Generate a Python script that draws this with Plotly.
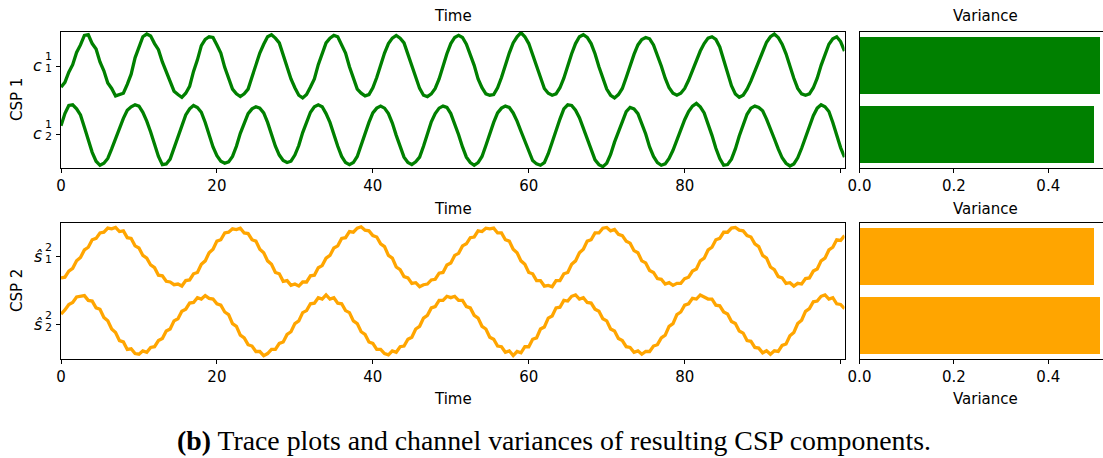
import numpy as np
import plotly.graph_objects as go

# ---------------------------------------------------------------- data
TIME_STEP = 0.5  # samples every half time unit, 0 .. 100.5

# CSP 1 components (deviation from each channel's baseline)
C1_1 = [-0.31, -0.24, -0.09, 0.02, 0.20, 0.31, 0.45, 0.46, 0.33, 0.25,
        0.06, -0.07, -0.25, -0.33, -0.44, -0.42, -0.40, -0.27, -0.12, 0.12,
        0.27, 0.43, 0.47, 0.44, 0.33, 0.24, 0.06, -0.09, -0.21, -0.37,
        -0.42, -0.46, -0.40, -0.30, -0.08, 0.09, 0.30, 0.39, 0.43, 0.42,
        0.31, 0.19, -0.02, -0.17, -0.34, -0.41, -0.45, -0.41, -0.34, -0.16,
        0.01, 0.19, 0.32, 0.43, 0.46, 0.41, 0.34, 0.16, 0.02, -0.19,
        -0.32, -0.43, -0.47, -0.42, -0.31, -0.19, 0.02, 0.17, 0.34, 0.41,
        0.45, 0.43, 0.31, 0.19, -0.01, -0.18, -0.34, -0.40, -0.44, -0.42,
        -0.32, -0.17, 0.01, 0.19, 0.33, 0.41, 0.45, 0.41, 0.34, 0.17,
        -0.01, -0.17, -0.33, -0.43, -0.45, -0.41, -0.33, -0.19, 0.01, 0.18,
        0.33, 0.42, 0.45, 0.42, 0.32, 0.18, 0.01, -0.19, -0.32, -0.41,
        -0.43, -0.42, -0.32, -0.17, 0.02, 0.19, 0.34, 0.43, 0.49, 0.43,
        0.33, 0.17, 0.01, -0.18, -0.33, -0.40, -0.43, -0.41, -0.32, -0.18,
        0.01, 0.18, 0.33, 0.43, 0.46, 0.42, 0.33, 0.18, -0.01, -0.19,
        -0.34, -0.43, -0.47, -0.42, -0.33, -0.17, 0.01, 0.17, 0.31, 0.39,
        0.42, 0.40, 0.31, 0.17, 0.00, -0.18, -0.32, -0.40, -0.43, -0.40,
        -0.33, -0.21, -0.06, 0.08, 0.22, 0.33, 0.41, 0.43, 0.39, 0.28,
        0.09, -0.10, -0.29, -0.41, -0.46, -0.43, -0.34, -0.22, -0.07, 0.08,
        0.22, 0.35, 0.43, 0.47, 0.42, 0.32, 0.18, -0.01, -0.18, -0.33,
        -0.41, -0.43, -0.41, -0.32, -0.18, 0.01, 0.17, 0.32, 0.40, 0.43,
        0.36, 0.22]

C1_2 = [0.12, 0.30, 0.42, 0.43, 0.37, 0.28, 0.10, -0.09, -0.27, -0.40,
        -0.46, -0.43, -0.36, -0.22, -0.06, 0.09, 0.23, 0.35, 0.40, 0.43,
        0.41, 0.32, 0.19, 0.03, -0.17, -0.33, -0.45, -0.44, -0.37, -0.21,
        -0.05, 0.12, 0.28, 0.37, 0.42, 0.39, 0.32, 0.17, -0.01, -0.19,
        -0.32, -0.40, -0.43, -0.41, -0.33, -0.18, 0.01, 0.17, 0.30, 0.37,
        0.40, 0.38, 0.31, 0.17, 0.00, -0.18, -0.31, -0.39, -0.42, -0.40,
        -0.31, -0.17, 0.02, 0.18, 0.32, 0.40, 0.43, 0.40, 0.30, 0.17,
        -0.02, -0.18, -0.33, -0.42, -0.45, -0.42, -0.33, -0.16, 0.00, 0.17,
        0.31, 0.38, 0.41, 0.38, 0.30, 0.16, -0.02, -0.19, -0.34, -0.42,
        -0.45, -0.41, -0.34, -0.18, 0.00, 0.18, 0.30, 0.38, 0.41, 0.39,
        0.30, 0.16, -0.01, -0.19, -0.34, -0.42, -0.46, -0.42, -0.33, -0.17,
        0.01, 0.17, 0.31, 0.38, 0.41, 0.39, 0.31, 0.19, 0.04, -0.10,
        -0.27, -0.39, -0.44, -0.46, -0.42, -0.29, -0.12, 0.06, 0.22, 0.37,
        0.43, 0.42, 0.35, 0.24, 0.08, -0.08, -0.24, -0.38, -0.45, -0.48,
        -0.43, -0.30, -0.12, 0.04, 0.20, 0.33, 0.39, 0.37, 0.30, 0.16,
        0.00, -0.19, -0.33, -0.42, -0.46, -0.44, -0.36, -0.24, -0.09, 0.07,
        0.21, 0.33, 0.41, 0.45, 0.40, 0.31, 0.15, -0.02, -0.21, -0.36,
        -0.46, -0.45, -0.37, -0.22, -0.03, 0.13, 0.29, 0.38, 0.41, 0.39,
        0.34, 0.22, 0.09, -0.07, -0.22, -0.35, -0.43, -0.47, -0.44, -0.35,
        -0.21, -0.05, 0.12, 0.27, 0.38, 0.43, 0.40, 0.33, 0.17, -0.01,
        -0.20, -0.34]

# CSP 2 components
S2_1 = [-0.31, -0.30, -0.21, -0.17, -0.06, -0.01, 0.10, 0.14, 0.25, 0.27, 0.35, 0.36, 0.42, 0.41,
        0.43, 0.37, 0.38, 0.28, 0.27, 0.16, 0.13, 0.02, -0.02, -0.12, -0.16, -0.27, -0.28, -0.36, -0.37, -0.41, -0.40,
        -0.43, -0.35, -0.34, -0.25, -0.23, -0.11, -0.06, 0.06, 0.11, 0.23, 0.25, 0.35, 0.36, 0.41, 0.40,
        0.42, 0.35, 0.34, 0.25, 0.23, 0.11, 0.06, -0.06, -0.11, -0.23, -0.25, -0.36, -0.35, -0.42, -0.40,
        -0.43, -0.37, -0.37, -0.28, -0.27, -0.16, -0.13, -0.02, 0.02, 0.13, 0.16, 0.27, 0.28, 0.37, 0.36, 0.42, 0.44,
        0.39, 0.38, 0.31, 0.29, 0.19, 0.15, 0.02, -0.02, -0.15, -0.19, -0.29, -0.31, -0.39, -0.38, -0.44,
        -0.41, -0.40, -0.34, -0.33, -0.24, -0.23, -0.12, -0.09, 0.02, 0.05, 0.16, 0.19, 0.28, 0.29, 0.38, 0.37, 0.42, 0.41,
        0.42, 0.35, 0.35, 0.25, 0.23, 0.11, 0.06, -0.06, -0.11, -0.23, -0.25, -0.35, -0.35, -0.43, -0.42,
        -0.44, -0.35, -0.35, -0.25, -0.23, -0.11, -0.06, 0.06, 0.11, 0.23, 0.25, 0.35, 0.35, 0.42, 0.43,
        0.38, 0.40, 0.33, 0.31, 0.23, 0.20, 0.09, 0.06, -0.06, -0.09, -0.20, -0.23, -0.32, -0.33, -0.40, -0.38, -0.42,
        -0.39, -0.39, -0.32, -0.30, -0.21, -0.18, -0.06, -0.02, 0.10, 0.14, 0.25, 0.27, 0.36, 0.36, 0.42, 0.43,
        0.39, 0.38, 0.31, 0.29, 0.19, 0.15, 0.02, -0.02, -0.15, -0.19, -0.29, -0.31, -0.39, -0.38, -0.43,
        -0.39, -0.40, -0.32, -0.31, -0.21, -0.18, -0.06, -0.02, 0.10, 0.14, 0.25, 0.24, 0.31]

S2_2 = [0.16, 0.22, 0.30, 0.33, 0.41, 0.42,
        0.43, 0.36, 0.35, 0.25, 0.23, 0.11, 0.06, -0.06, -0.11, -0.23, -0.25, -0.36, -0.35, -0.42, -0.43,
        -0.38, -0.40, -0.33, -0.32, -0.23, -0.20, -0.09, -0.06, 0.06, 0.09, 0.20, 0.23, 0.32, 0.33, 0.40, 0.38, 0.43,
        0.39, 0.38, 0.31, 0.29, 0.19, 0.15, 0.02, -0.02, -0.15, -0.19, -0.29, -0.31, -0.39, -0.39, -0.45,
        -0.42, -0.36, -0.36, -0.27, -0.25, -0.14, -0.10, 0.02, 0.06, 0.18, 0.21, 0.31, 0.32, 0.40, 0.38, 0.44,
        0.38, 0.40, 0.32, 0.31, 0.21, 0.18, 0.06, 0.02, -0.10, -0.14, -0.25, -0.27, -0.36, -0.36, -0.42, -0.44,
        -0.38, -0.40, -0.32, -0.31, -0.21, -0.18, -0.06, -0.02, 0.10, 0.14, 0.25, 0.27, 0.36, 0.36, 0.42, 0.40,
        0.42, 0.36, 0.36, 0.27, 0.25, 0.14, 0.10, -0.02, -0.06, -0.18, -0.21, -0.31, -0.32, -0.40, -0.38, -0.45,
        -0.39, -0.41, -0.32, -0.32, -0.21, -0.19, -0.06, -0.03, 0.10, 0.13, 0.25, 0.26, 0.36, 0.35, 0.42, 0.44,
        0.38, 0.40, 0.33, 0.32, 0.23, 0.20, 0.09, 0.06, -0.06, -0.09, -0.20, -0.23, -0.32, -0.33, -0.40, -0.38, -0.43,
        -0.39, -0.39, -0.31, -0.29, -0.19, -0.15, -0.02, 0.02, 0.15, 0.19, 0.29, 0.31, 0.39, 0.38, 0.44,
        0.41, 0.38, 0.38, 0.29, 0.28, 0.19, 0.16, 0.05, 0.02, -0.09, -0.12, -0.23, -0.24, -0.33, -0.34, -0.41, -0.38, -0.43,
        -0.38, -0.39, -0.30, -0.28, -0.16, -0.11, 0.02, 0.07, 0.20, 0.24, 0.34, 0.35, 0.42, 0.44,
        0.38, 0.40, 0.31, 0.30, 0.24]

# channel variances, listed top channel first
VAR_CSP1 = [0.508, 0.496]
VAR_CSP2 = [0.496, 0.508]

TIME_TICKS = [0, 20, 40, 60, 80, 100]
TIME_TICKTEXT = ["0", "20", "40", "60", "80", ""]
VAR_TICKS = [0.0, 0.2, 0.4]
VAR_TICKTEXT = ["0.0", "0.2", "0.4"]

for series in (C1_1, C1_2, S2_1, S2_2):
    assert len(series) == len(C1_1), len(series)

# ---------------------------------------------------------------- style
W, H = 1103, 458
GREEN = "#008000"
ORANGE = "#FFA500"
FONT = "DejaVu Sans"
CHANNEL_BASE = [1.0, 0.0]   # vertical baseline of the upper / lower channel
BAR_POS = [1, 0]


def px(x):
    return x / W


def py(y):
    return 1 - y / H


t = np.arange(len(C1_1)) * TIME_STEP

fig = go.Figure()

rows = [
    dict(sig=[C1_1, C1_2], var=VAR_CSP1, color=GREEN, ax=("x", "y"), bx=("x2", "y2")),
    dict(sig=[S2_1, S2_2], var=VAR_CSP2, color=ORANGE, ax=("x3", "y3"), bx=("x4", "y4")),
]

for row in rows:
    for base, sig in zip(CHANNEL_BASE, row["sig"]):
        fig.add_trace(go.Scatter(
            x=t, y=np.asarray(sig) + base, mode="lines",
            line=dict(color=row["color"], width=3.3),
            xaxis=row["ax"][0], yaxis=row["ax"][1], hoverinfo="skip"))
    fig.add_trace(go.Bar(
        x=row["var"], y=BAR_POS, orientation="h", width=0.82,
        marker=dict(color=row["color"], line=dict(width=0)),
        xaxis=row["bx"][0], yaxis=row["bx"][1]))

tickfont = dict(family=FONT, size=15, color="black")
common = dict(showline=True, linecolor="black", linewidth=1, showgrid=False,
              zeroline=False, tickfont=tickfont, tickcolor="black",
              tickwidth=1, ticklen=4, automargin=False)

time_dom = [px(61), px(844.5)]
var_dom = [px(859.5), 1.0]
top_dom = [py(168), py(32)]
bot_dom = [py(359), py(222.7)]

time_x = dict(common, range=[0, 100.5], tickvals=TIME_TICKS, ticktext=TIME_TICKTEXT,
              ticks="outside", mirror=True)
var_x = dict(common, range=[0, 0.516], tickvals=VAR_TICKS, ticktext=VAR_TICKTEXT,
             ticks="outside", mirror=True)
time_y = dict(common, range=[-0.5, 1.5], tickvals=CHANNEL_BASE, showticklabels=False,
              ticks="outside", mirror=True)
var_y = dict(common, range=[-0.48, 1.48], showticklabels=False, ticks="")

fig.update_layout(
    width=W, height=H, margin=dict(l=0, r=0, t=0, b=0, autoexpand=False),
    paper_bgcolor="white", plot_bgcolor="white", showlegend=False,
    xaxis=dict(time_x, domain=time_dom, anchor="y"),
    yaxis=dict(time_y, domain=top_dom, anchor="x"),
    xaxis2=dict(var_x, domain=var_dom, anchor="y2"),
    yaxis2=dict(var_y, domain=top_dom, anchor="x2"),
    xaxis3=dict(time_x, domain=time_dom, anchor="y3"),
    yaxis3=dict(time_y, domain=bot_dom, anchor="x3"),
    xaxis4=dict(var_x, domain=var_dom, anchor="y4"),
    yaxis4=dict(var_y, domain=bot_dom, anchor="x4"),
    bargap=0,
)

ann = []


def text(s, x, y, size=15, angle=0, family=FONT, **kw):
    ann.append(dict(text=s, x=x, y=y, xref="paper", yref="paper", showarrow=False,
                    xanchor="center", yanchor="middle", textangle=angle,
                    font=dict(family=family, size=size, color="black"), **kw))


time_cx = px((61 + 844.5) / 2)
var_cx = px(985)
for y_title in (16, 209):
    text("Time", time_cx, py(y_title))
    text("Variance", var_cx, py(y_title))
text("Time", time_cx, py(399))
text("Variance", var_cx, py(399))
text("CSP 1", px(17), py(100), angle=-90)
text("CSP 2", px(17), py(291), angle=-90)


def channel_label(base, sup, sub, yref, yval):
    ann.append(dict(text=f"<i>{base}</i>", x=px(44), y=yval, xref="paper", yref=yref,
                    xanchor="right", yanchor="middle", showarrow=False, yshift=0,
                    font=dict(family=FONT, size=16, color="black")))
    ann.append(dict(text=sup, x=px(42.5), y=yval, xref="paper", yref=yref,
                    xanchor="left", yanchor="middle", showarrow=False, yshift=9,
                    font=dict(family=FONT, size=11, color="black")))
    ann.append(dict(text=sub, x=px(42.5), y=yval, xref="paper", yref=yref,
                    xanchor="left", yanchor="middle", showarrow=False, yshift=-3,
                    font=dict(family=FONT, size=11, color="black")))


channel_label("c", "1", "1", "y", CHANNEL_BASE[0])
channel_label("c", "1", "2", "y", CHANNEL_BASE[1])
channel_label("\u015d", "2", "1", "y3", CHANNEL_BASE[0])
channel_label("\u015d", "2", "2", "y3", CHANNEL_BASE[1])

text("<b>(b)</b> Trace plots and channel variances of resulting CSP components.",
     px(554), py(440), size=27.8, family="Liberation Serif")

fig.update_layout(annotations=ann)
fig.write_html("out.html")
